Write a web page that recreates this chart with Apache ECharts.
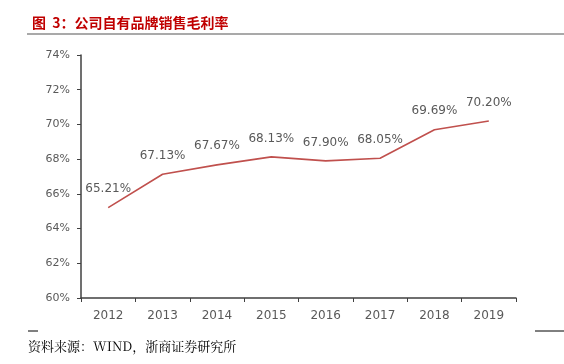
<!DOCTYPE html>
<html lang="zh">
<head>
<meta charset="UTF-8">
<title>公司自有品牌销售毛利率</title>
<script src="https://cdn.jsdelivr.net/npm/echarts@6/dist/echarts.min.js"></script>
<style>
  html, body { margin: 0; padding: 0; background: #fff; }
  #main { width: 564px; height: 364px; }
</style>
</head>
<body>
<div id="main"></div>
<script>
  // 年份
  var years = ['2012', '2013', '2014', '2015', '2016', '2017', '2018', '2019'];
  // 毛利率 (%)
  var grossMargin = [65.21, 67.13, 67.67, 68.13, 67.90, 68.05, 69.69, 70.20];

  var myChart = echarts.init(document.getElementById('main'));

  var option = {
    animation: false,
    title: {
      text: '图  3：公司自有品牌销售毛利率',
      left: 27,
      top: 11,
      textStyle: {
        color: '#c00000',
        fontSize: 14,
        fontWeight: 'bold',
        fontFamily: 'Noto Sans CJK SC'
      }
    },
    graphic: [
      // 标题下方的灰线
      { type: 'line', shape: { x1: 27, y1: 34, x2: 564, y2: 34 }, style: { stroke: '#8c8c8c', lineWidth: 1.5 } },
      // 底部短线
      { type: 'line', shape: { x1: 28, y1: 331, x2: 38, y2: 331 }, style: { stroke: '#000', lineWidth: 1 } },
      { type: 'line', shape: { x1: 535, y1: 331, x2: 564, y2: 331 }, style: { stroke: '#000', lineWidth: 1 } },
      {
        type: 'text', left: 28, top: 340,
        style: { text: '资料来源：WIND，浙商证券研究所', fill: '#000', font: '13px "Noto Serif CJK SC", "Liberation Serif", serif' }
      }
    ],
    grid: { left: 81, right: 48, top: 55, bottom: 66 },
    xAxis: {
      type: 'category',
      data: years,
      boundaryGap: true,
      axisLine: { lineStyle: { color: '#404040', width: 1.5 } },
      axisTick: { show: true, length: 4, lineStyle: { color: '#404040' } },
      axisLabel: { color: '#595959', fontSize: 12, margin: 12, fontFamily: 'DejaVu Sans' }
    },
    yAxis: {
      type: 'value',
      min: 60,
      max: 74,
      interval: 2,
      splitLine: { show: false },
      axisLine: { show: true, lineStyle: { color: '#404040', width: 1.5 } },
      axisTick: { show: true, length: 4, lineStyle: { color: '#404040' } },
      axisLabel: { color: '#595959', fontSize: 11, margin: 11, formatter: '{value}%', fontFamily: 'DejaVu Sans' }
    },
    series: [
      {
        type: 'line',
        data: grossMargin,
        symbol: 'circle',
        symbolSize: 1,
        showSymbol: true,
        itemStyle: { color: 'rgba(0,0,0,0)' },
        lineStyle: { color: '#c0504d', width: 1.6 },
        label: {
          show: true,
          position: 'top',
          distance: 12,
          color: '#595959',
          fontSize: 12,
          fontFamily: 'DejaVu Sans',
          formatter: function (p) { return p.value.toFixed(2) + '%'; }
        }
      }
    ]
  };

  myChart.setOption(option);
</script>
</body>
</html>
